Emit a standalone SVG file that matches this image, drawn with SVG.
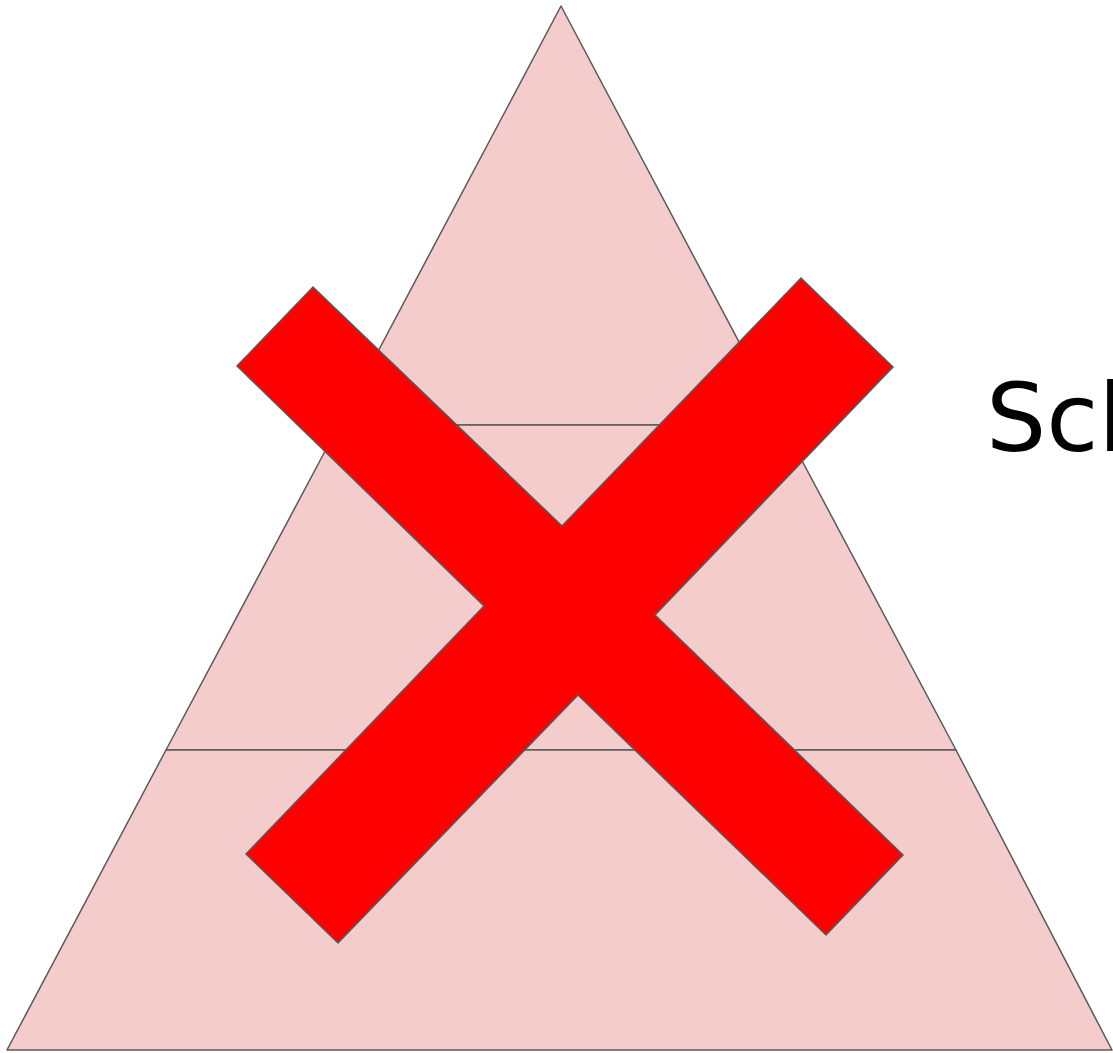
<svg xmlns="http://www.w3.org/2000/svg" width="1113" height="1053" viewBox="0 0 1113 1053">
<style>
.tier{fill:#f4cccc;stroke:#595959;stroke-width:1.5;stroke-linejoin:round}
.cross{fill:#ff0000;stroke:#595959;stroke-width:1.5;stroke-linejoin:miter}
.label{font-family:"DejaVu Sans","Noto Sans",sans-serif;font-size:95px;fill:#000}
</style>
<rect width="1113" height="1053" fill="#ffffff"/>
<g id="pyramid">
<g id="tier-top"><polygon class="tier" points="561,6 783,425 339,425"/></g>
<g id="tier-middle"><polygon class="tier" points="339,425 783,425 956,750 166,750"/></g>
<g id="tier-bottom"><polygon class="tier" points="166,750 956,750 1112,1050 7,1050"/></g>
</g>
<g id="cross">
<polygon class="cross" points="313,287 562,526 801,278 893,367 655,615 903,855 826,935 578,695 338,943 246,854 484,606 237,366"/>
</g>
<g id="label">
<text class="label" x="986" y="451">Sch</text>
</g>
<g id="connectors"/>
</svg>
